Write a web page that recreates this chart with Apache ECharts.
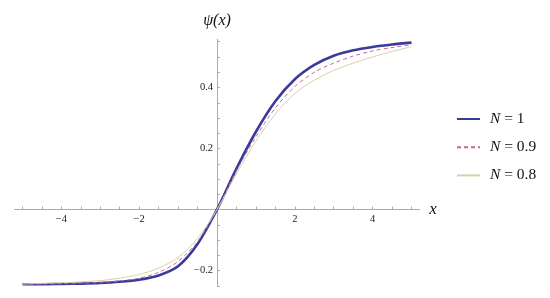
<!DOCTYPE html>
<html>
<head>
<meta charset="utf-8">
<script src="https://cdn.jsdelivr.net/npm/echarts@6/dist/echarts.min.js"></script>
<style>html,body{margin:0;padding:0;background:#fff}#c{width:550px;height:298px}</style>
</head>
<body>
<div id="c"></div>
<script>
var xs   = [-5, -4.5, -4, -3.5, -3, -2.5, -2, -1.5, -1, -0.5, 0, 0.5, 1, 1.5, 2, 2.5, 3, 3.5, 4, 4.5, 5];
var yN1  = [-0.245, -0.245, -0.244, -0.243, -0.241, -0.237, -0.230, -0.216, -0.186, -0.113, 0, 0.134, 0.255, 0.355, 0.427, 0.474, 0.504, 0.522, 0.533, 0.541, 0.547];
var yN09 = [-0.245, -0.244, -0.243, -0.241, -0.239, -0.234, -0.225, -0.206, -0.170, -0.105, 0, 0.127, 0.238, 0.333, 0.403, 0.450, 0.480, 0.503, 0.520, 0.531, 0.540];
var yN08 = [-0.244, -0.242, -0.240, -0.237, -0.233, -0.225, -0.213, -0.192, -0.157, -0.095, 0, 0.117, 0.224, 0.313, 0.380, 0.424, 0.456, 0.480, 0.500, 0.518, 0.534];
var names = ['1', '0.9', '0.8'];
var xLabels = [-4, -2, 2, 4];
var yLabels = [-0.2, 0.2, 0.4];

function pairs(ys){ return xs.map(function(x,i){ return [x, ys[i]]; }); }
var xTicks = [], yTicks = [];
for (var i = -10; i <= 10; i++) xTicks.push(i / 2);
for (var j = -5; j <= 11; j++) yTicks.push(+(j * 0.05).toFixed(2));

var serif = '"Liberation Serif", "DejaVu Serif", serif';
var gridL = 14.7, gridW = 404.6, gridT = 39.3, gridH = 247.4;
var xMin = -5.2, xMax = 5.2, yMin = -0.253, yMax = 0.558;
var zeroX = gridL + gridW * (0 - xMin) / (xMax - xMin);
var zeroY = gridT + gridH * (yMax - 0) / (yMax - yMin);

var chart = echarts.init(document.getElementById('c'), null, {renderer: 'canvas'});
var styles = [
  {color: '#3a3a9c', width: 2.6, type: 'solid'},
  {color: '#c0689a', width: 1, type: [4, 3]},
  {color: '#d9d0a8', width: 1, type: 'solid'}
];
var datasets = [yN1, yN09, yN08];
chart.setOption({
  animation: false,
  grid: {left: gridL, width: gridW, top: gridT, height: gridH, containLabel: false},
  legend: {
    orient: 'vertical', left: 456, top: 111, padding: 0, itemWidth: 23, itemHeight: 14, itemGap: 12.2,
    itemStyle: {opacity: 0},
    textStyle: {fontFamily: serif, fontSize: 15.5, color: '#111', padding: [0, 0, 0, 5],
      rich: {i: {fontFamily: serif, fontSize: 15.5, fontStyle: 'italic', color: '#111'}}},
    formatter: function(n){ return '{i|N} = ' + n; },
    data: names
  },
  xAxis: {
    type: 'value', min: xMin, max: xMax, position: 'bottom',
    offset: -(gridT + gridH - zeroY),
    name: 'x', nameLocation: 'end', nameGap: 10,
    nameTextStyle: {fontFamily: serif, fontStyle: 'italic', fontSize: 17, color: '#111', verticalAlign: 'middle'},
    axisLine: {onZero: false, lineStyle: {color: '#aaaaaa', width: 1}},
    axisTick: {show: true, inside: true, length: 3, customValues: xTicks, lineStyle: {color: '#aaaaaa'}},
    axisLabel: {customValues: xLabels, margin: 4, fontFamily: serif, fontSize: 10.5, color: '#222',
      formatter: function(v){ return String(v).replace('-', '\u2212'); }},
    splitLine: {show: false}
  },
  yAxis: {
    type: 'value', min: yMin, max: yMax, position: 'left',
    offset: -(zeroX - gridL),
    name: '\u03c8(x)', nameLocation: 'end', nameGap: 11,
    nameTextStyle: {fontFamily: serif, fontStyle: 'italic', fontSize: 16, color: '#111'},
    axisLine: {onZero: false, lineStyle: {color: '#aaaaaa', width: 1}},
    axisTick: {show: true, inside: true, length: 3, customValues: yTicks, lineStyle: {color: '#aaaaaa'}},
    axisLabel: {customValues: yLabels, margin: 4, fontFamily: serif, fontSize: 10.5, color: '#222',
      formatter: function(v){ return String(+v.toFixed(2)).replace('-', '\u2212'); }},
    splitLine: {show: false}
  },
  series: names.map(function(n, k){
    return {
      name: n, type: 'line', smooth: 0.3, symbol: 'none',
      data: pairs(datasets[k]),
      lineStyle: styles[k], itemStyle: {color: styles[k].color},
      z: 2 + k
    };
  })
});
</script>
</body>
</html>
